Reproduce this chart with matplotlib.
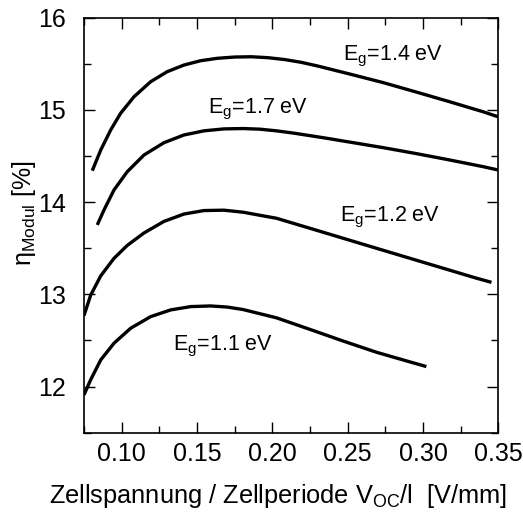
import matplotlib
matplotlib.use("Agg")
import matplotlib.pyplot as plt
from matplotlib.ticker import MultipleLocator, FormatStrFormatter

plt.rcParams['font.family'] = ['Liberation Sans', 'DejaVu Sans']
plt.rcParams['mathtext.fontset'] = 'custom'
plt.rcParams['mathtext.rm'] = 'Liberation Sans'
plt.rcParams['mathtext.it'] = 'Liberation Sans'

# Data
x_14 = [0.0805, 0.0861, 0.0927, 0.0993, 0.1082, 0.1192, 0.1302, 0.1413, 0.1524, 0.1634,
        0.1750, 0.1860, 0.1970, 0.2080, 0.2190, 0.2300, 0.2410, 0.2520, 0.2735, 0.2956,
        0.3177, 0.3398, 0.3497]
y_14 = [14.34, 14.564, 14.781, 14.962, 15.142, 15.304, 15.413, 15.485, 15.532, 15.558,
        15.572, 15.575, 15.565, 15.545, 15.515, 15.475, 15.43, 15.385, 15.295, 15.192,
        15.087, 14.979, 14.925]

x_17 = [0.0838, 0.0883, 0.0949, 0.1037, 0.1148, 0.1280, 0.1413, 0.1546, 0.1678, 0.1806,
        0.1917, 0.2027, 0.2138, 0.2249, 0.2359, 0.2469, 0.2580, 0.2735, 0.2956, 0.3177,
        0.3398, 0.3497]
y_17 = [13.752, 13.915, 14.131, 14.329, 14.510, 14.643, 14.727, 14.772, 14.793, 14.797,
        14.790, 14.772, 14.748, 14.720, 14.692, 14.662, 14.632, 14.59, 14.525, 14.456,
        14.384, 14.348]

x_12 = [0.075, 0.0794, 0.0861, 0.0949, 0.1037, 0.1148, 0.1280, 0.1413, 0.1546, 0.1678,
        0.1806, 0.2028, 0.2249, 0.2469, 0.2691, 0.2912, 0.3133, 0.3354, 0.3454]
y_12 = [12.77, 12.99, 13.20, 13.39, 13.53, 13.665, 13.79, 13.87, 13.908, 13.912,
        13.89, 13.824, 13.716, 13.608, 13.499, 13.391, 13.283, 13.175, 13.13]

x_11 = [0.075, 0.0794, 0.0861, 0.0949, 0.1060, 0.1192, 0.1325, 0.1458, 0.1590, 0.1700,
        0.1806, 0.2028, 0.2249, 0.2469, 0.2691, 0.2912, 0.3022]
y_11 = [11.91, 12.073, 12.289, 12.470, 12.633, 12.758, 12.831, 12.867, 12.874, 12.862,
        12.835, 12.745, 12.620, 12.494, 12.372, 12.268, 12.217]

labels = ['E$_\\mathrm{g}$=1.4 eV', 'E$_\\mathrm{g}$=1.7 eV', 'E$_\\mathrm{g}$=1.2 eV', 'E$_\\mathrm{g}$=1.1 eV']
label_x = [0.2468, 0.1573, 0.2448, 0.134]
label_y = [15.58, 15.0, 13.83, 12.43]

fig = plt.figure(figsize=(5.23, 5.16), dpi=100)
ax = fig.add_axes([0.1606, 0.1614, 0.953 - 0.1606, 0.966 - 0.1614])

for xs, ys in [(x_14, y_14), (x_17, y_17), (x_12, y_12), (x_11, y_11)]:
    ax.plot(xs, ys, color='black', lw=2.4, solid_capstyle='butt', solid_joinstyle='round')

for t, lx, ly in zip(labels, label_x, label_y):
    ax.text(lx, ly, t, fontsize=15.5, ha='left', va='center')

ax.set_xlim(0.075, 0.35)
ax.set_ylim(11.5, 16)
ax.xaxis.set_major_locator(MultipleLocator(0.05))
ax.xaxis.set_minor_locator(MultipleLocator(0.025))
ax.yaxis.set_major_locator(MultipleLocator(1))
ax.yaxis.set_minor_locator(MultipleLocator(0.5))
ax.xaxis.set_major_formatter(FormatStrFormatter('%.2f'))
ax.tick_params(which='both', direction='in', top=True, right=True, width=1.0, labelsize=18)
ax.tick_params(axis='x', which='major', pad=7)
ax.tick_params(axis='y', which='major', pad=13)
ax.tick_params(which='major', length=8)
ax.tick_params(which='minor', length=5)
for s in ax.spines.values():
    s.set_linewidth(1.2)

ax.set_xlabel('Zellspannung / Zellperiode V$_\\mathrm{OC}$/l  [V/mm]', fontsize=18.3)
ax.xaxis.set_label_coords(0.468, -0.119)
ax.set_ylabel('η$_\\mathrm{Modul}$ [%]', fontsize=18)
ax.yaxis.set_label_coords(-0.11, 0.53)

fig.savefig('out.png', dpi=100)
